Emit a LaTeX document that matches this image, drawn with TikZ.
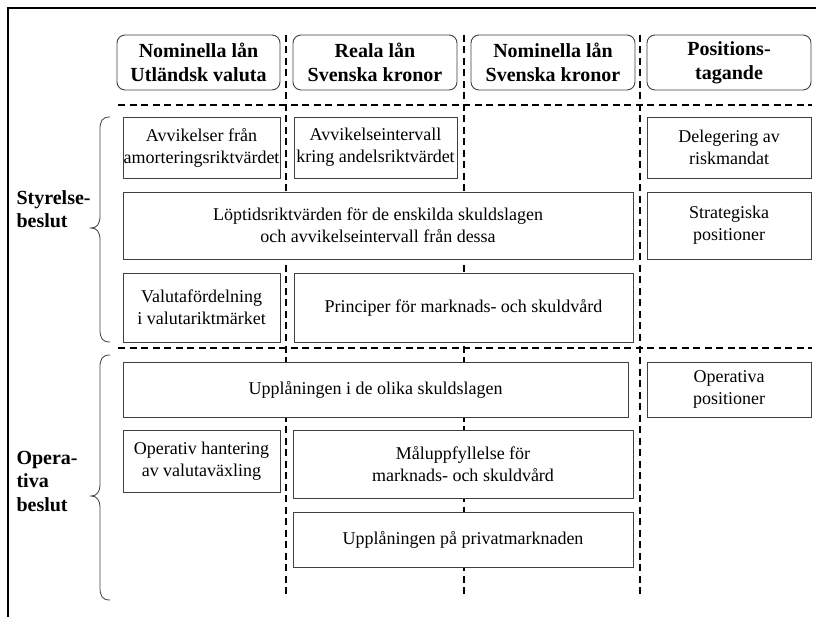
\documentclass[tikz,border=0pt]{standalone}
\usepackage{fontspec}
\setmainfont{Liberation Serif}
\begin{document}
\begin{tikzpicture}[x=1pt,y=-1pt,
  box/.style={draw=black!75, line width=0.9pt, fill=white, inner sep=0pt, align=center,
    font=\fontsize{18}{22}\selectfont},
  headbox/.style={draw=black!75, line width=0.9pt, fill=white, rounded corners=8pt, inner sep=0pt,
    minimum height=55pt, align=center, font=\bfseries\fontsize{20}{24}\selectfont},
  grid/.style={dashed, dash pattern=on 7pt off 4.5pt, line width=1.6pt},
  side/.style={align=left, anchor=west, font=\bfseries\fontsize{20}{23.5}\selectfont},
  bracestyle/.style={draw=black!75, line width=0.8pt}]
\useasboundingbox (0,0) rectangle (816,617);
% frame
\draw[line width=1.8pt] (8,617) -- (8,8) -- (816,8);
% grid lines
\coordinate (v1t) at (286,35); \coordinate (v1b) at (286,598);
\coordinate (v2t) at (464,35); \coordinate (v2b) at (464,598);
\coordinate (v3t) at (640,35); \coordinate (v3b) at (640,598);
\coordinate (h1l) at (118,105); \coordinate (h1r) at (812,105);
\coordinate (h2l) at (118,348); \coordinate (h2r) at (812,348);
\draw[grid] (v1t) -- (v1b);
\draw[grid] (v2t) -- (v2b);
\draw[grid] (v3t) -- (v3b);
\draw[grid] (h1l) -- (h1r);
\draw[grid] (h2l) -- (h2r);
% headers
\node[headbox, minimum width=163pt] (h1) at (198.5,62.5) {Nominella lån\\Utländsk valuta};
\node[headbox, minimum width=164pt] (h2) at (375,62.5) {Reala lån\\Svenska kronor};
\node[headbox, minimum width=164pt] (h3) at (553,62.5) {Nominella lån\\Svenska kronor};
\node[headbox, minimum width=164pt] (h4) at (729,62.5) {Positions-\\tagande};
% Styrelsebeslut rows
\node[box, minimum width=157pt, minimum height=61pt] (a1) at (201.5,147.5) {Avvikelser från\\amorteringsriktvärdet};
\node[box, minimum width=163pt, minimum height=61pt] (a2) at (375.5,147.5) {Avvikelseintervall\\kring andelsriktvärdet};
\node[box, minimum width=164pt, minimum height=61pt] (a4) at (729,147.5) {Delegering av\\riskmandat};
\node[box, minimum width=510pt, minimum height=67pt] (b1) at (378,225.5) {Löptidsriktvärden för de enskilda skuldslagen\\och avvikelseintervall från dessa};
\node[box, minimum width=164pt, minimum height=67pt] (b4) at (729,225.5) {Strategiska\\positioner};
\node[box, minimum width=157pt, minimum height=69pt] (c1) at (201.5,307.5) {Valutafördelning\\i valutariktmärket};
\node[box, minimum width=339pt, minimum height=69pt] (c2) at (463.5,307.5) {Principer för marknads- och skuldvård};
% Operativa rows
\node[box, minimum width=505pt, minimum height=55pt] (d1) at (375.5,389.5) {Upplåningen i de olika skuldslagen};
\node[box, minimum width=164pt, minimum height=55pt] (d4) at (729,389.5) {Operativa\\positioner};
\node[box, minimum width=157pt, minimum height=62pt] (e1) at (201.5,461) {Operativ hantering\\av valutaväxling};
\node[box, minimum width=340pt, minimum height=68pt] (e2) at (463,464) {Måluppfyllelse för\\marknads- och skuldvård};
\node[box, minimum width=340pt, minimum height=55pt] (f2) at (463,539.5) {Upplåningen på privatmarknaden};
% side labels
\node[side] (styr) at (13,209) {Styrelse-\\beslut};
\node[side] (oper) at (13,481) {Opera-\\tiva\\beslut};
% braces
\draw[bracestyle] (110,117) .. controls (102,117) and (100,121) .. (100,130)
  -- (100,216) .. controls (100,224) and (97,228) .. (91,228)
  .. controls (97,228) and (100,232) .. (100,240)
  -- (100,329) .. controls (100,338) and (102,342) .. (110,342);
\draw[bracestyle] (110,355) .. controls (102,355) and (100,359) .. (100,368)
  -- (100,484) .. controls (100,492) and (97,496) .. (91,496)
  .. controls (97,496) and (100,500) .. (100,508)
  -- (100,587) .. controls (100,596) and (102,600) .. (110,600);
\end{tikzpicture}
\end{document}
